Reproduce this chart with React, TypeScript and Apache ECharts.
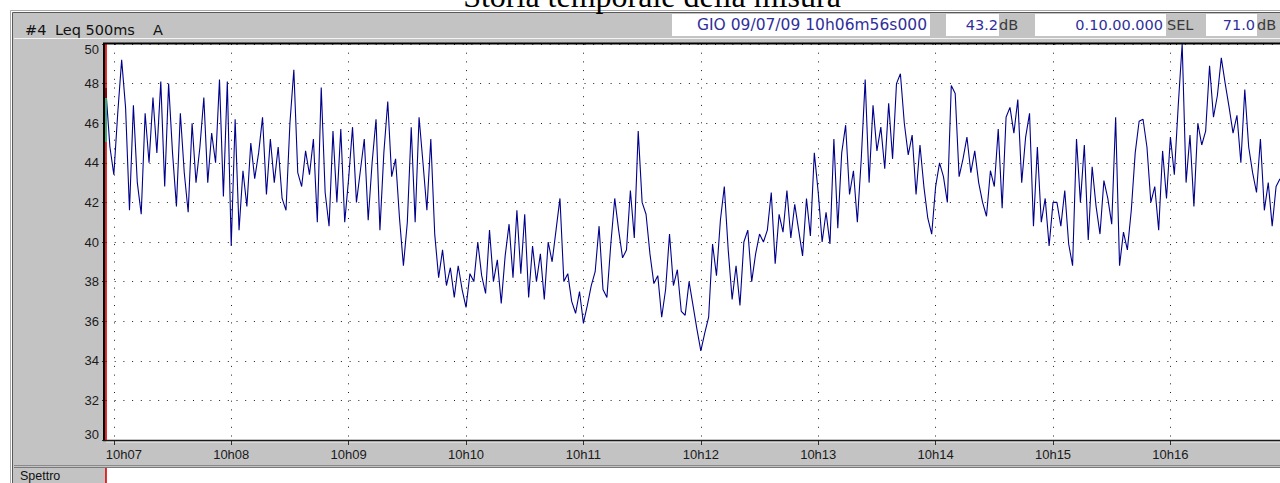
import React, { useEffect, useRef } from 'react';
import * as echarts from 'echarts';

// ---- data -------------------------------------------------------------
// Leq 500ms A, read every 2 s from 10h06m56s (10 minutes)
const START_SECONDS = 10 * 3600 + 6 * 60 + 56;
const STEP_SECONDS = 2;

const LEQ_PART_1 = [
  47.6, 44.8, 43.4, 46.5, 49.2, 46.8, 41.6, 46.9, 43.0, 41.4,
  46.5, 44.0, 47.3, 44.5, 48.1, 42.8, 48.0, 44.5, 41.8, 46.5,
  43.5, 41.5, 46.0, 43.0, 44.8, 47.3, 43.0, 45.5, 44.0, 48.2,
  42.3, 48.1, 39.8, 46.2, 40.6, 43.6, 41.8, 45.0, 43.2, 44.5,
  46.3, 42.4, 45.2, 43.0, 44.8, 42.2, 41.6, 46.0, 48.7, 43.5,
  42.8, 44.6, 43.4, 45.2, 41.0, 47.8, 42.5, 40.8, 45.6, 42.0,
];
const LEQ_PART_2 = [
  45.7, 41.0, 43.2, 45.8, 42.0, 43.6, 45.2, 41.1, 44.0, 46.2,
  40.6, 44.5, 47.1, 43.3, 44.2, 41.2, 38.8, 41.0, 45.8, 41.0,
  46.3, 44.0, 41.6, 45.2, 40.4, 38.2, 39.6, 37.8, 38.7, 37.2,
  38.8, 37.6, 36.7, 38.4, 38.0, 40.0, 38.3, 37.4, 40.6, 38.0,
  39.1, 36.9, 39.3, 40.9, 38.2, 41.6, 38.4, 41.4, 37.2, 39.8,
  38.0, 39.4, 37.1, 40.0, 39.0, 40.6, 42.2, 38.0, 38.4, 37.0,
  36.4,
];
const LEQ_PART_3 = [
  37.5, 35.9, 36.8, 37.8, 38.5, 40.8, 37.6, 37.2, 39.9, 42.2,
  40.6, 39.2, 39.6, 42.6, 40.2, 45.6, 42.0, 41.4, 39.4, 37.9,
  38.3, 36.2, 37.6, 40.4, 37.8, 38.6, 36.5, 36.3, 38.0, 36.8,
  35.6, 34.5, 35.4, 36.2, 39.9, 38.3, 41.1, 42.8, 39.6, 37.1,
  38.8, 36.8, 40.0, 40.6, 38.0, 39.4, 40.4, 40.0, 40.6, 42.5,
  38.9, 41.4, 40.5, 42.6, 40.2, 41.9, 40.6, 39.3, 42.2, 40.3,
  44.5,
];
const LEQ_PART_4 = [
  42.5, 40.0, 41.5, 39.9, 45.2, 40.7, 44.5, 45.9, 42.4, 43.6,
  41.0, 44.2, 48.2, 43.0, 46.9, 44.6, 45.8, 43.7, 47.0, 44.2,
  48.0, 48.5, 46.0, 44.4, 45.4, 42.4, 44.9, 42.8, 41.2, 40.4,
  42.8, 44.0, 43.3, 42.0, 47.9, 47.5, 43.3, 44.2, 45.3, 43.5,
  44.6, 43.0, 42.0, 41.3, 43.6, 42.8, 45.7, 41.7, 46.3, 46.8,
  45.5, 47.2, 43.0, 45.3, 46.5, 40.8, 44.8, 41.0, 42.2, 39.8,
  42.0,
];
const LEQ_PART_5 = [
  42.0, 40.8, 42.6, 39.9, 38.8, 45.2, 42.0, 44.9, 40.1, 43.8,
  41.8, 40.4, 43.1, 42.2, 40.9, 46.3, 38.8, 40.5, 39.6, 41.6,
  44.5, 46.1, 46.2, 44.8, 42.0, 42.8, 40.6, 44.6, 42.2, 45.3,
  43.4, 46.9, 50.0, 43.0, 45.4, 41.8, 46.0, 44.9, 45.6, 48.9,
  46.3, 47.4, 49.3, 48.0, 46.8, 45.5, 46.4, 44.0, 47.7, 44.8,
  43.5, 42.5, 45.2, 41.6, 43.0, 40.8, 42.8, 43.2,
];
const LEQ = [...LEQ_PART_1, ...LEQ_PART_2, ...LEQ_PART_3, ...LEQ_PART_4, ...LEQ_PART_5];

const Y_MIN = 30;
const Y_MAX = 50;
const Y_STEP = 2;

const TITLE = 'Storia temporale della misura';
const HEADER_ID = '#4';
const HEADER_MEASURE = 'Leq 500ms';
const HEADER_WEIGHT = 'A';
const INFO_DATE = 'GIO 09/07/09 10h06m56s000';
const INFO_LEVEL = '43.2';
const INFO_DURATION = '0.10.00.000';
const INFO_SEL = '71.0';
const SPECTRUM_LABEL = 'Spettro';

const pad2 = (n: number) => String(n).padStart(2, '0');
const TIMES = LEQ.map((_, i) => {
  const s = START_SECONDS + i * STEP_SECONDS;
  return `${pad2(Math.floor(s / 3600))}:${pad2(Math.floor(s / 60) % 60)}:${pad2(s % 60)}`;
});
const FIRST_MINUTE = TIMES.find((t) => t.endsWith(':00'));

// ---- styling ----------------------------------------------------------
const GRAY = '#c3c3c3';
const SANS = '"Liberation Sans", Arial, sans-serif';
const WIN = '"DejaVu Sans", sans-serif';
const INFO_BLUE = '#2f2f9c';

const App: React.FC = () => {
  const ref = useRef<HTMLDivElement>(null);

  useEffect(() => {
    if (!ref.current) return;
    const chart = echarts.init(ref.current, undefined, { renderer: 'svg' });

    const isMinute = (_i: number, v: string) => String(v).endsWith(':00');
    const fmtTime = (v: string) => {
      const lbl = `${v.slice(0, 2)}h${v.slice(3, 5)}`;
      return v === FIRST_MINUTE ? `{first|${lbl}}` : lbl;
    };
    const fmtY = (v: number) => {
      if (v === Y_MIN) return `{bot|${v}}`;
      if (v === Y_MAX) return `{top|${v}}`;
      return String(v);
    };

    const line = (x1: number, y1: number, x2: number, y2: number, stroke: string, lineWidth = 1, z = 10) => ({
      type: 'line', z, silent: true,
      shape: { x1, y1, x2, y2 },
      style: { stroke, lineWidth },
    });
    const rect = (x: number, y: number, width: number, height: number, fill: string, z = -10) => ({
      type: 'rect', z, silent: true,
      shape: { x, y, width, height },
      style: { fill },
    });
    const text = (x: number, y: number, t: string, font: string, fill: string, align = 'left', z = 11) => ({
      type: 'text', z, silent: true, x, y,
      style: { text: t, font, fill, align, verticalAlign: 'middle' },
    });

    const graphic: any[] = [
      // title
      text(652, -4, TITLE, '32px "Liberation Serif", "Times New Roman", serif', '#000', 'center'),
      // gray window areas
      rect(13, 12, 1267, 26, GRAY),
      rect(13, 38, 1267, 6, GRAY),
      rect(13, 38, 93, 445, GRAY),
      rect(106, 440, 1174, 27, GRAY),
      // window frame
      line(10.5, 10.5, 1280, 10.5, '#a8a8a8', 1, -5),
      line(10.5, 10.5, 10.5, 483, '#a8a8a8', 1, -5),
      line(12.5, 12.5, 1280, 12.5, '#585858', 1, -5),
      line(12.5, 12.5, 12.5, 483, '#585858', 1, -5),
      line(14, 38.5, 1280, 38.5, '#f4f4f4', 1, -5),
      // header labels
      text(25, 30, HEADER_ID, `14.5px ${WIN}`, '#111', 'left'),
      text(55, 30, HEADER_MEASURE, `14.5px ${WIN}`, '#111', 'left'),
      text(153, 30, HEADER_WEIGHT, `14.5px ${WIN}`, '#111', 'left'),
      // info boxes
      rect(672, 14, 258, 22, '#ffffff', -6),
      rect(946, 14, 53, 22, '#ffffff', -6),
      rect(1035, 14, 131, 22, '#ffffff', -6),
      rect(1206, 14, 51, 22, '#ffffff', -6),
      text(927, 25, INFO_DATE, `15.5px ${WIN}`, INFO_BLUE, 'right'),
      text(998, 25, INFO_LEVEL, `14.5px ${WIN}`, INFO_BLUE, 'right'),
      text(999, 25, 'dB', `14.5px ${WIN}`, '#3a3a3a', 'left'),
      text(1163, 25, INFO_DURATION, `14.5px ${WIN}`, INFO_BLUE, 'right'),
      text(1167, 25, 'SEL', `14.5px ${WIN}`, '#3a3a3a', 'left'),
      text(1255, 25, INFO_SEL, `14.5px ${WIN}`, INFO_BLUE, 'right'),
      text(1257, 25, 'dB', `14.5px ${WIN}`, '#3a3a3a', 'left'),
      // plot frame
      line(103, 43.5, 1280, 43.5, '#000', 2),
      line(104, 43, 104, 441, '#000', 2),
      line(103, 440.5, 1280, 440.5, '#1a1a1a', 1.5),
      line(106, 442, 1280, 442, '#f2f2f2', 1, -5),
      // start cursor
      line(106, 44, 106, 440, '#e00000', 1.6),
      line(106, 88, 106, 98, '#8b0000', 1.6, 11),
      line(106, 98, 106, 142, '#20c888', 1.6, 11),
      // spectrum row
      line(14, 465.5, 1280, 465.5, '#8a8a8a', 1, -5),
      line(14, 467.5, 1280, 467.5, '#7a7a7a', 1, -5),
      rect(106, 468, 1174, 15, '#ffffff', -6),
      line(106, 468, 106, 483, '#e00000', 1.6),
      text(20, 476, SPECTRUM_LABEL, `12.5px ${SANS}`, '#111', 'left'),
    ];

    const option: any = {
      animation: false,
      backgroundColor: '#ffffff',
      grid: { left: 106, top: 44, width: 1176, height: 396, containLabel: false },
      xAxis: {
        type: 'category',
        data: TIMES,
        boundaryGap: false,
        axisLine: { show: false },
        axisTick: { show: true, interval: isMinute, length: 5, lineStyle: { color: '#303030' } },
        axisLabel: {
          interval: isMinute,
          formatter: fmtTime,
          margin: 8,
          color: '#1a1a1a',
          fontSize: 13,
          fontFamily: SANS,
          rich: { first: { padding: [0, 0, 0, 20], color: '#1a1a1a', fontSize: 13, fontFamily: SANS } },
        },
        splitLine: { show: true, interval: isMinute, lineStyle: { color: '#1e1e1e', width: 1, type: [1, 7.7] } },
      },
      yAxis: {
        type: 'value',
        min: Y_MIN,
        max: Y_MAX,
        interval: Y_STEP,
        axisLine: { show: false },
        axisTick: { show: true, length: 4, lineStyle: { color: '#303030' } },
        axisLabel: {
          formatter: fmtY,
          margin: 7,
          color: '#1a1a1a',
          fontSize: 13,
          fontFamily: SANS,
          rich: {
            bot: { padding: [0, 0, 12, 0], color: '#1a1a1a', fontSize: 13, fontFamily: SANS },
            top: { padding: [10, 0, 0, 0], color: '#1a1a1a', fontSize: 13, fontFamily: SANS },
          },
        },
        splitLine: { show: true, lineStyle: { color: '#1e1e1e', width: 1, type: [1, 7.7] } },
      },
      series: [
        {
          type: 'line',
          data: LEQ,
          symbol: 'none',
          clip: true,
          z: 3,
          lineStyle: { color: '#00008b', width: 1.1 },
        },
      ],
      graphic,
    };

    chart.setOption(option);
    return () => chart.dispose();
  }, []);

  return (
    <div style={{ position: 'fixed', left: 0, top: 0, width: 1280, height: 483, overflow: 'hidden' }}>
      <div ref={ref} style={{ width: 1280, height: 483 }} />
    </div>
  );
};

export default App;
